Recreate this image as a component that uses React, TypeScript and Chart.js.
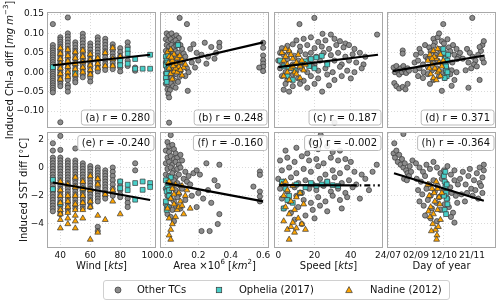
import React, { useEffect, useRef } from 'react';
import { Chart, registerables } from 'chart.js';
Chart.register(...registerables);

const FONT = "'DejaVu Sans', 'Noto Sans', sans-serif";
Chart.defaults.font.family = FONT;

// ---------------- data ----------------
const windCols = [35, 40, 45, 50, 55, 60, 65, 70, 75, 80, 85, 90, 95, 100];

const chlWindOther = [
  [0.124, 0.07, 0.062, 0.056, 0.05, 0.044, 0.038, 0.032, 0.026, 0.02, 0.014, 0.008, 0.002, -0.004, -0.01, -0.016, -0.022, -0.028, -0.034, -0.04, -0.046, -0.052],
  [0.09, 0.084, 0.078, 0.072, 0.066, 0.06, 0.054, 0.048, 0.042, 0.036, 0.03, 0.024, 0.018, 0.012, 0.006, 0.0, -0.006, -0.012, -0.018, -0.024, -0.03, -0.036, -0.129],
  [0.141, 0.1, 0.092, 0.084, 0.076, 0.068, 0.06, 0.052, 0.044, 0.036, 0.028, 0.02, 0.012, 0.004, -0.004, -0.012, -0.02, -0.033, -0.04, -0.05],
  [0.077, 0.07, 0.062, 0.055, 0.048, 0.04, 0.033, 0.025, 0.018, 0.01, 0.003, -0.005, -0.012, -0.02, -0.026],
  [0.099, 0.09, 0.082, 0.074, 0.066, 0.058, 0.05, 0.042, 0.034, 0.026, 0.018, 0.01, 0.002, -0.006, -0.013],
  [0.074, 0.066, 0.058, 0.05, 0.042, 0.034, 0.026, 0.018, 0.01, 0.002, -0.006, -0.014, -0.024],
  [0.09, 0.082, 0.074, 0.066, 0.058, 0.05, 0.042, 0.034, 0.026, 0.018, 0.01, 0.002],
  [0.086, 0.078, 0.07, 0.062, 0.054, 0.046, 0.038, 0.03, 0.022, 0.014, 0.006],
  [0.072, 0.064, 0.056, 0.048, 0.04, 0.032, 0.024, 0.016, 0.008],
  [0.062, 0.052, 0.042, 0.032, 0.022, 0.012, 0.002],
  [0.077, 0.066, 0.03, 0.016],
  [0.012, 0.004],
  [],
  [],
];
const chlWindOphelia = [
  [0.013], [], [], [-0.003], [], [], [], [], [], [0.03, 0.018], [0.058, 0.048, 0.022], [0.034, 0.009], [0.009], [0.045, 0.009],
];
const chlWindNadine = [
  [], [0.062, 0.048, 0.034, 0.022, 0.01, -0.004, -0.018], [0.058, 0.042, 0.028, 0.014, 0.0, -0.012],
  [0.052, 0.036, 0.022, 0.008, -0.006], [0.056, 0.04, 0.026, 0.012, 0.0], [0.046, 0.032, 0.018, 0.006, -0.006],
  [0.036, 0.022, 0.01], [0.05, 0.016], [0.062, 0.034, 0.016], [0.04], [], [], [], [],
];

const sstWindOther = [
  [1.72, 1.2, 0.7, 0.5, 0.3, 0.1, -0.1, -0.3, -0.5, -0.7, -0.9, -1.1, -1.3, -1.5, -1.7, -1.9, -2.1, -2.3, -2.5, -2.7, -2.9, -3.1],
  [2.24, 1.25, 0.7, 0.5, 0.3, 0.1, -0.1, -0.3, -0.5, -0.7, -0.9, -1.1, -1.3, -1.5, -1.7, -1.9, -2.1, -2.3, -2.5, -2.7, -2.9, -3.1, -3.3],
  [0.5, 0.3, 0.1, -0.1, -0.3, -0.5, -0.7, -0.9, -1.1, -1.3, -1.5, -1.7, -1.9, -2.1, -2.3, -2.5, -2.7, -2.9, -3.1],
  [1.35, 0.5, 0.3, 0.1, -0.1, -0.3, -0.5, -0.7, -0.9, -1.1, -1.3, -1.5, -1.7, -1.9, -2.1, -2.3, -2.5, -2.7, -2.9],
  [0.3, 0.1, -0.1, -0.3, -0.5, -0.7, -0.9, -1.1, -1.3, -1.5, -1.7, -1.9, -2.1, -2.3, -2.5, -2.7, -2.9],
  [0.1, -0.1, -0.3, -0.5, -0.7, -0.9, -1.1, -1.3, -1.5, -1.7, -1.9, -2.1, -2.3, -2.5, -2.8],
  [0.0, -0.2, -0.4, -0.6, -0.8, -1.0, -1.2, -1.4, -1.6, -1.8, -2.0, -2.2, -2.4, -4.2, -4.5],
  [-0.2, -0.4, -0.6, -0.8, -1.0, -1.2, -1.4, -1.6, -1.8, -2.0, -2.2],
  [0.0, -0.3, -0.6, -0.9, -1.2, -1.5, -1.8, -2.0],
  [-1.0, -1.3, -1.6, -1.9, -2.1],
  [-2.2, -2.5, -2.8],
  [0.3, -0.2],
  [],
  [],
];
const sstWindOphelia = [
  [-0.87, -1.53], [-2.56], [], [], [-1.5], [], [], [], [], [-0.99, -1.46], [-1.22, -1.6], [-1.1, -2.28], [-0.99, -1.58], [-1.1, -1.38],
];
const sstWindNadine = [
  [], [-1.0, -1.6, -2.0, -2.5, -3.0, -3.3, -3.7, -4.3], [-1.2, -2.0, -2.4, -2.8, -3.2, -3.6, -4.0],
  [-0.7, -1.4, -2.0, -2.6, -3.0, -3.4, -3.8, -4.3], [-1.0, -1.5, -2.0, -2.5, -3.0, -3.6], [-0.6, -1.6, -2.4, -2.8, -5.1],
  [-0.8, -1.2, -3.4, -4.6], [-1.9, -3.7], [-1.6, -2.4], [-3.3], [], [], [], [],
];

const chlAreaOther = [
  [0.005, 0.1], [0.02, 0.095], [0.035, 0.1], [0.05, 0.09], [0.065, 0.095], [0.08, 0.088],
  [0.0, 0.085], [0.015, 0.08], [0.03, 0.085], [0.045, 0.078], [0.06, 0.082], [0.075, 0.075], [0.09, 0.07],
  [0.005, 0.07], [0.02, 0.066], [0.035, 0.07], [0.05, 0.064], [0.065, 0.068], [0.1, 0.06],
  [0.0, 0.055], [0.015, 0.052], [0.03, 0.056], [0.045, 0.05], [0.06, 0.054], [0.075, 0.05], [0.11, 0.048],
  [0.005, 0.04], [0.02, 0.038], [0.035, 0.042], [0.05, 0.036], [0.065, 0.04], [0.085, 0.035], [0.12, 0.04],
  [0.0, 0.026], [0.015, 0.024], [0.03, 0.028], [0.045, 0.022], [0.06, 0.026], [0.08, 0.02], [0.1, 0.025],
  [0.005, 0.012], [0.02, 0.01], [0.035, 0.014], [0.05, 0.008], [0.07, 0.01], [0.09, 0.005], [0.13, 0.01],
  [0.0, -0.002], [0.015, -0.004], [0.03, 0.0], [0.045, -0.008], [0.065, -0.005], [0.085, -0.012],
  [0.005, -0.016], [0.02, -0.018], [0.035, -0.014], [0.055, -0.022], [0.075, -0.025],
  [0.0, -0.03], [0.015, -0.032], [0.03, -0.028], [0.045, -0.036],
  [0.01, -0.044], [0.025, -0.046], [0.015, -0.056], [0.02, -0.065],
  [0.085, 0.14], [0.13, 0.124], [0.02, -0.13], [0.135, -0.048], [0.06, -0.04],
  [0.15, 0.06], [0.17, 0.072], [0.19, 0.05], [0.22, 0.045], [0.24, 0.076], [0.26, 0.04], [0.28, 0.065], [0.3, 0.035],
  [0.33, 0.076], [0.33, 0.065], [0.31, 0.05], [0.2, 0.03], [0.16, 0.025], [0.18, 0.012], [0.14, 0.0], [0.25, 0.022], [0.12, -0.01],
  [0.6, 0.076], [0.6, 0.063], [0.6, 0.043], [0.6, 0.031], [0.6, 0.022], [0.6, 0.014], [0.6, 0.003], [0.576, 0.012],
];
const chlAreaOphelia = [[0.0, 0.04], [0.005, 0.03], [0.0, 0.018], [0.01, 0.008], [0.005, -0.004], [0.0, -0.015], [0.01, 0.025], [0.015, 0.045], [0.02, 0.012], [0.005, -0.025], [0.075, 0.07]];
const chlAreaNadine = [[0.01, 0.052], [0.02, 0.04], [0.03, 0.058], [0.04, 0.03], [0.05, 0.046], [0.06, 0.022], [0.07, 0.036], [0.08, 0.014], [0.09, 0.026], [0.1, 0.032], [0.11, 0.012], [0.02, 0.01], [0.03, -0.004], [0.05, 0.002], [0.07, 0.0], [0.04, -0.018], [0.06, 0.01], [0.015, 0.024], [0.085, 0.042], [0.12, 0.02], [0.1, -0.008], [0.09, 0.006], [0.045, 0.016], [0.035, 0.038]];

const sstAreaOther = [
  [0.03, 2.3], [0.01, 1.8], [0.02, 1.5], [0.04, 1.6], [0.0, 1.2], [0.02, 1.1], [0.05, 1.3], [0.06, 1.0], [0.01, 0.7], [0.03, 0.8], [0.05, 0.6], [0.07, 0.7], [0.09, 0.9],
  [0.0, 0.3], [0.02, 0.4], [0.04, 0.2], [0.06, 0.4], [0.08, 0.2], [0.1, 0.5], [0.01, -0.1], [0.03, 0.0], [0.05, -0.2], [0.07, -0.1], [0.09, 0.0], [0.12, -0.3],
  [0.0, -0.5], [0.02, -0.6], [0.04, -0.4], [0.06, -0.7], [0.08, -0.5], [0.11, -0.8], [0.14, -0.6], [0.01, -1.0], [0.03, -1.2], [0.05, -0.9], [0.07, -1.1], [0.09, -1.3], [0.13, -1.0],
  [0.0, -1.5], [0.02, -1.7], [0.04, -1.4], [0.06, -1.6], [0.08, -1.9], [0.1, -1.5], [0.01, -2.0], [0.03, -2.2], [0.05, -2.4], [0.07, -2.1], [0.12, -2.3],
  [0.0, -2.6], [0.02, -2.8], [0.04, -3.0], [0.06, -2.7], [0.09, -2.9], [0.01, -3.3], [0.03, -3.5], [0.05, -3.8],
  [0.17, -0.4], [0.19, -0.2], [0.21, -0.5], [0.25, 0.3], [0.3, -0.9], [0.32, -1.3], [0.26, -1.6], [0.2, -1.8], [0.23, -2.2], [0.28, -2.5], [0.16, -2.0],
  [0.33, -3.3], [0.32, -4.0], [0.22, -4.5], [0.27, -4.5], [0.19, -2.8], [0.15, -1.2], [0.33, 0.2], [0.54, -1.35],
  [0.58, -0.28], [0.58, -0.52], [0.58, -1.7], [0.58, -2.05], [0.58, -2.4],
];
const sstAreaOphelia = [[0.0, -0.9], [0.01, -1.3], [0.005, -1.7], [0.02, -2.0], [0.0, -2.4], [0.01, -2.8], [0.015, -1.1], [0.005, -3.0], [0.02, -1.6], [0.03, -0.7]];
const sstAreaNadine = [[0.02, -1.0], [0.04, -1.5], [0.06, -1.2], [0.08, -1.8], [0.1, -1.3], [0.12, -2.0], [0.15, -2.9], [0.03, -2.2], [0.05, -2.6], [0.07, -3.0], [0.09, -2.4], [0.11, -3.3], [0.02, -3.6], [0.04, -4.0], [0.03, -4.4], [0.02, -4.8], [0.03, -5.1], [0.06, -3.5], [0.08, -2.8], [0.05, -1.9], [0.13, -1.6], [0.01, -2.9], [0.1, -2.7]];

const chlSpeedOther = [
  [19.9, 0.14], [11.7, 0.124], [54.5, 0.097], [24.4, 0.099], [29, 0.097],
  [10, 0.082], [14, 0.086], [18, 0.09], [22, 0.078], [26, 0.082], [31, 0.086], [34, 0.08], [37, 0.074],
  [2, 0.062], [5, 0.068], [8, 0.072], [12, 0.066], [16, 0.07], [20, 0.062], [24, 0.066], [28, 0.06], [32, 0.07], [36, 0.064], [39, 0.07], [42, 0.06],
  [1, 0.05], [3, 0.045], [6, 0.052], [9, 0.042], [12, 0.054], [15, 0.046], [18, 0.05], [21, 0.04], [25, 0.05], [29, 0.044], [33, 0.05], [37, 0.04], [41, 0.046], [45, 0.05], [48, 0.04],
  [0, 0.03], [2, 0.024], [5, 0.034], [8, 0.02], [11, 0.03], [14, 0.024], [17, 0.034], [20, 0.02], [23, 0.03], [27, 0.024], [31, 0.03], [35, 0.02], [39, 0.03], [43, 0.025], [47, 0.02],
  [1, 0.01], [4, 0.0], [7, 0.014], [10, 0.004], [13, 0.01], [16, 0.0], [19, 0.014], [22, 0.004], [26, 0.01], [30, 0.0], [34, 0.014], [38, 0.004], [42, 0.0], [46, 0.01],
  [2, -0.01], [5, -0.02], [8, -0.006], [11, -0.016], [14, -0.022], [18, -0.01], [22, -0.016], [27, -0.006], [31, -0.02], [35, -0.01], [40, -0.016],
  [4, -0.03], [8, -0.036], [12, -0.03], [16, -0.04], [20, -0.03], [24.2, -0.05], [3, -0.045], [6, -0.05], [28, -0.034],
  [31, -0.13],
];
const chlSpeedOphelia = [[1, 0.03], [3, 0.015], [6, 0.01], [9, 0.005], [12, 0.02], [15, 0.028], [18, 0.034], [21, 0.038], [24, 0.042], [20, 0.01], [17, 0.016], [27, 0.02], [5, -0.01], [8, -0.02]];
const chlSpeedNadine = [[2, 0.05], [3, 0.03], [4, 0.04], [5, 0.02], [6, 0.055], [7, 0.01], [8, 0.035], [9, 0.0], [10, 0.025], [11, 0.045], [12, 0.015], [13, 0.03], [14, 0.005], [3, -0.01], [5, 0.0], [6, -0.02], [8, 0.015], [10, -0.005], [4, 0.06], [7, 0.045], [15, 0.02], [12, -0.015]];

const sstSpeedOther = [
  [23.4, 2.3], [18, 1.8], [4, 1.2], [10, 1.4], [16, 1.0], [22, 1.3], [27, 1.5], [30, 1.1], [34, 1.2],
  [1, 0.5], [5, 0.7], [9, 0.4], [13, 0.8], [17, 0.5], [21, 0.6], [25, 0.3], [29, 0.7], [33, 0.5], [37, 0.6], [40, 0.4], [54.3, 0.2],
  [2, -0.2], [6, 0.0], [10, -0.4], [14, -0.1], [18, -0.3], [22, 0.1], [26, -0.5], [30, -0.2], [34, -0.4], [38, 0.0], [42, -0.3], [46, -0.5], [52, -0.3],
  [0, -0.8], [3, -1.0], [7, -0.7], [11, -1.1], [15, -0.9], [19, -1.2], [23, -0.8], [27, -1.0], [31, -0.7], [35, -1.1], [39, -0.9], [43, -1.2], [48, -0.8],
  [1, -1.5], [5, -1.7], [9, -1.4], [13, -1.8], [17, -1.5], [21, -1.6], [25, -1.3], [29, -1.7], [33, -1.5], [37, -1.8], [41, -1.4], [50, -1.6],
  [2, -2.2], [6, -2.4], [10, -2.0], [14, -2.3], [18, -2.5], [22, -2.1], [26, -2.4], [30, -2.0], [34, -2.3], [38, -2.1], [45, -2.2],
  [3, -2.9], [7, -3.2], [11, -2.8], [15, -3.4], [19, -3.0], [23, -2.7], [27, -3.1], [35, -2.9],
  [9, -3.7], [13, -4.0], [20, -3.6],
];
const sstSpeedOphelia = [[2, -1.0], [4, -1.5], [6, -2.0], [8, -2.5], [10, -1.2], [12, -1.8], [15, -1.4], [18, -1.1], [21, -1.3], [24, -1.2], [27, -1.0], [30, -1.25], [33, -1.3], [3, -2.9], [5, -2.3]];
const sstSpeedNadine = [[2, -1.2], [3, -2.0], [4, -2.8], [5, -1.6], [6, -3.3], [7, -2.4], [8, -1.3], [9, -3.0], [10, -2.1], [11, -3.6], [12, -1.8], [13, -4.0], [14, -2.6], [3, -3.8], [5, -4.4], [7, -4.2], [6, -5.1], [9, -4.6], [4, -1.0], [8, -3.9], [15, -4.4], [10, -4.3]];

const chlDayOther = [
  [213, 0.012], [215, 0.0], [217, 0.016], [219, 0.004], [221, -0.006], [223, 0.01], [225, 0.0], [227, 0.016], [229, 0.006], [231, -0.002], [233, 0.01], [235, 0.004],
  [226, 0.056], [226, 0.048], [214, -0.028], [217, -0.036], [221, -0.042], [226, -0.038], [230, -0.044], [233, -0.03],
  [270, 0.086], [276, 0.09], [282, 0.08], [290, 0.085], [272, 0.076], [284, 0.124], [278, 0.1],
  [250, 0.06], [258, 0.07], [264, 0.064], [270, 0.068], [278, 0.06], [285, 0.074], [292, 0.064], [298, 0.07], [303, 0.06],
  [245, 0.045], [252, 0.05], [259, 0.04], [266, 0.054], [273, 0.045], [280, 0.05], [287, 0.04], [294, 0.054], [300, 0.045], [306, 0.04],
  [243, 0.025], [248, 0.03], [255, 0.02], [262, 0.034], [269, 0.025], [276, 0.03], [283, 0.02], [290, 0.03], [297, 0.025], [304, 0.034],
  [244, 0.005], [250, 0.01], [256, 0.0], [262, 0.014], [268, 0.005], [275, 0.01], [282, 0.0], [289, 0.01], [296, 0.005], [303, 0.0],
  [248, -0.01], [255, -0.015], [262, -0.005], [270, -0.02], [278, -0.01], [286, -0.015], [294, -0.005], [300, -0.02],
  [265, -0.03], [282, -0.048], [296, -0.035], [320, -0.04], [336, -0.02],
  [318, 0.06], [322, 0.05], [326, 0.04], [330, 0.03], [334, 0.045], [338, 0.055], [340, 0.07], [342, 0.08], [336, 0.065], [328, 0.02],
  [324, 0.01], [332, 0.015], [340, 0.035], [342, 0.025], [320, 0.025], [325.5, 0.14], [316, 0.005], [312, 0.035], [308, 0.05],
];
const chlDayOphelia = [[285, 0.05], [286, 0.035], [287, 0.02], [288, 0.005], [289, -0.01], [290, 0.03], [291, 0.045], [286, -0.015], [288, 0.015], [290, 0.0], [284, 0.06]];
const chlDayNadine = [[262, 0.03], [265, 0.045], [268, 0.02], [270, 0.055], [272, 0.01], [274, 0.035], [276, 0.0], [278, 0.025], [280, 0.045], [282, 0.015], [266, -0.005], [270, -0.015], [274, -0.02], [278, 0.005], [271, 0.04], [276, 0.06], [264, 0.01], [268, 0.035], [280, -0.01], [284, 0.03]];

const sstDayOther = [
  [214, 1.72], [227, 2.38], [213, 1.0], [215, 0.7], [217, 1.2], [219, 0.4], [221, 0.9], [223, 0.2], [225, 0.6], [227, 0.0], [229, 0.3], [231, -0.2], [233, -0.4], [235, -0.6], [228, -0.8], [232, -0.9], [240, 0.5], [238, -0.3], [236, 0.1],
  [245, 0.3], [250, 0.0], [255, -0.3], [260, 0.2], [265, -0.1], [270, 0.4], [275, 0.0], [280, -0.4], [285, -0.2], [290, 0.1], [295, -0.5], [300, -0.2],
  [246, -0.8], [252, -1.0], [258, -0.6], [264, -1.2], [270, -0.9], [276, -1.3], [282, -0.8], [288, -1.1], [294, -1.4], [300, -0.9], [305, -1.2],
  [248, -1.6], [254, -1.9], [260, -1.5], [266, -2.0], [272, -1.7], [278, -2.1], [284, -1.6], [290, -2.2], [296, -1.8], [302, -2.0],
  [250, -2.4], [256, -2.7], [262, -2.3], [268, -2.9], [274, -2.5], [280, -3.0], [286, -2.6], [292, -2.8], [298, -3.2], [304, -2.5],
  [258, -3.4], [266, -3.6], [275, -3.8], [295, -3.5], [300, -3.9],
  [308, -0.8], [312, -0.3], [316, -1.2], [320, -0.6], [324, -1.5], [328, -0.9], [332, -0.4], [336, -1.1], [340, -0.7], [342, -0.2], [326, -2.0],
  [318, -1.8], [330, -1.6], [338, -1.3], [334, -2.2], [322, -0.1], [340, -1.8], [315, -2.4], [310, -1.9], [342, 0.2], [336, 0.0],
];
const sstDayOphelia = [[285, -0.6], [286, -1.0], [287, -1.4], [288, -1.8], [289, -2.2], [290, -2.6], [286, -3.0], [288, -3.3], [285, -2.0], [287, -0.3], [289, -1.2]];
const sstDayNadine = [[262, -1.2], [264, -2.0], [266, -2.8], [268, -1.5], [270, -3.3], [272, -2.4], [274, -1.0], [276, -3.0], [278, -2.1], [280, -3.7], [282, -1.8], [265, -3.5], [269, -4.0], [273, -4.4], [275, -4.8], [274.5, -5.1], [277, -4.2], [263, -3.1], [271, -1.8], [279, -2.6], [267, -4.5], [276, -1.5]];

// regression lines [x0, y0, x1, y1]
const fitLines = [
  [35, 0.018, 100, 0.045],
  [0, 0.0185, 0.6, 0.077],
  [0, 0.013, 55, 0.045],
  [212, 0.003, 343, 0.043],
  [35, -1.06, 100, -2.3],
  [0, -1.1, 0.6, -2.4],
  [0.5, -1.24, 40, -1.26],
  [213.6, -0.4, 342, -2.35],
];
const fitTailG = [40, -1.26, 56, -1.27];
const rLabels = ['(a) r = 0.280', '(b) r = 0.248', '(c) r = 0.187', '(d) r = 0.371', '(e) r = -0.240', '(f) r = -0.160', '(g) r = -0.002', '(h) r = -0.364'];

// axes
const chlTicks = [-0.1, -0.05, 0, 0.05, 0.1, 0.15];
const chlTickLabels = ['−0.10', '−0.05', '0.00', '0.05', '0.10', '0.15'];
const sstTicks = [-4, -2, 0, 2];
const sstTickLabels = ['−4', '−2', '0', '2'];
const windTicks = [40, 60, 80, 100];
const windTickLabels = ['40', '60', '80', '100'];
const areaTicks = [0, 0.2, 0.4, 0.6];
const areaTickLabels = ['0.0', '0.2', '0.4', '0.6'];
const speedTicks = [0, 20, 40];
const speedTickLabels = ['0', '20', '40'];
const dayTicks = [205, 245, 285, 325];
const dayTickLabels = ['24/07', '02/09', '12/10', '21/11'];

type Seg = { t: string; it?: boolean; sup?: boolean };
type Axis = { min: number; max: number; ticks: number[]; labels: string[] };
const axX: Axis[] = [
  { min: 31.75, max: 103.25, ticks: windTicks, labels: windTickLabels },
  { min: -0.03, max: 0.63, ticks: areaTicks, labels: areaTickLabels },
  { min: -1.8, max: 57.2, ticks: speedTicks, labels: speedTickLabels },
  { min: 205, max: 358, ticks: dayTicks, labels: dayTickLabels },
];
const axY: Axis[] = [
  { min: -0.1412, max: 0.1526, ticks: chlTicks, labels: chlTickLabels },
  { min: -5.63, max: 2.447, ticks: sstTicks, labels: sstTickLabels },
];
const xTitles: Seg[][] = [
  [{ t: 'Wind [' }, { t: 'kts', it: true }, { t: ']' }],
  [{ t: 'Area ×10' }, { t: '6', sup: true }, { t: ' [' }, { t: 'km', it: true }, { t: '2', sup: true }, { t: ']' }],
  [{ t: 'Speed [' }, { t: 'kts', it: true }, { t: ']' }],
  [{ t: 'Day of year' }],
];
const yTitles: Seg[][] = [
  [{ t: 'Induced Chl-a diff [' }, { t: 'mg m', it: true }, { t: '−3', sup: true }, { t: ']' }],
  [{ t: 'Induced SST diff [' }, { t: '°' }, { t: 'C', it: true }, { t: ']' }],
];
const yTitlePos = [[10, 70], [24, 190]];
const xTitleY = 266;

// ---------------- layout ----------------
const colX = [48, 161, 275, 388];
const colW = 107;
const rowY = [13, 133];
const rowH = 114;

const GRAY = '#8c8c8c';
const CYAN = '#48cfc8';
const ORANGE = '#ffa500';
const EDGE = '#363636';
const SPINE = '#a8a8a8';
const GRID = '#d2d2d2';

type P = { x: number; y: number };
const toPts = (a: number[][]): P[] => a.map(([x, y]) => ({ x, y }));
const fromCols = (cols: number[][]): P[] => cols.flatMap((vals, i) => vals.map((y) => ({ x: windCols[i], y })));

const panelData: { other: P[]; oph: P[]; nad: P[] }[] = [
  { other: fromCols(chlWindOther), oph: fromCols(chlWindOphelia), nad: fromCols(chlWindNadine) },
  { other: toPts(chlAreaOther), oph: toPts(chlAreaOphelia), nad: toPts(chlAreaNadine) },
  { other: toPts(chlSpeedOther), oph: toPts(chlSpeedOphelia), nad: toPts(chlSpeedNadine) },
  { other: toPts(chlDayOther), oph: toPts(chlDayOphelia), nad: toPts(chlDayNadine) },
  { other: fromCols(sstWindOther), oph: fromCols(sstWindOphelia), nad: fromCols(sstWindNadine) },
  { other: toPts(sstAreaOther), oph: toPts(sstAreaOphelia), nad: toPts(sstAreaNadine) },
  { other: toPts(sstSpeedOther), oph: toPts(sstSpeedOphelia), nad: toPts(sstSpeedNadine) },
  { other: toPts(sstDayOther), oph: toPts(sstDayOphelia), nad: toPts(sstDayNadine) },
];

function geom(i: number) {
  const col = i % 4;
  const row = Math.floor(i / 4);
  const px = colX[col];
  const py = rowY[row];
  const padL = col === 0 ? px : 44;
  const padR = 30;
  const padT = row === 0 ? py : 10;
  const padB = row === 0 ? 16 : 45;
  return { col, row, padL, padR, padT, padB, left: px - padL, top: py - padT, w: padL + colW + padR, h: padT + rowH + padB };
}

function drawRich(ctx: CanvasRenderingContext2D, segs: Seg[], cx: number, cy: number, rot: number, size: number) {
  ctx.save();
  ctx.translate(cx, cy);
  ctx.rotate(rot);
  const fontFor = (s: Seg) => `${s.it ? 'italic ' : ''}${s.sup ? size * 0.7 : size}px ${FONT}`;
  let total = 0;
  const widths = segs.map((s) => {
    ctx.font = fontFor(s);
    const w = ctx.measureText(s.t).width;
    total += w;
    return w;
  });
  let x = -total / 2;
  ctx.textBaseline = 'middle';
  ctx.textAlign = 'left';
  ctx.fillStyle = '#111';
  segs.forEach((s, k) => {
    ctx.font = fontFor(s);
    ctx.fillText(s.t, x, s.sup ? -size * 0.38 : 0);
    x += widths[k];
  });
  ctx.restore();
}

function buildConfig(i: number): any {
  const g = geom(i);
  const xa = axX[g.col];
  const ya = axY[g.row];
  const d = panelData[i];
  const f = fitLines[i];
  const datasets: any[] = [
    { data: [{ x: f[0], y: f[1] }, { x: f[2], y: f[3] }], showLine: true, borderColor: '#000', borderWidth: 2.2, pointRadius: 0, order: 0 },
    { data: d.nad, pointStyle: 'triangle', pointRadius: 3.4, backgroundColor: ORANGE, borderColor: EDGE, borderWidth: 0.7, order: 2 },
    { data: d.oph, pointStyle: 'rect', pointRadius: 3.4, backgroundColor: CYAN, borderColor: EDGE, borderWidth: 0.7, order: 3 },
    { data: d.other, pointStyle: 'circle', pointRadius: 2.6, backgroundColor: GRAY, borderColor: EDGE, borderWidth: 0.7, order: 4 },
  ];
  if (i === 6) {
    datasets.push({ data: [{ x: fitTailG[0], y: fitTailG[1] }, { x: fitTailG[2], y: fitTailG[3] }], showLine: true, borderColor: '#000', borderWidth: 2.2, borderDash: [6, 3, 1.5, 3], pointRadius: 0, order: 1 });
  }
  const labelsY = g.col === 0;
  const labelsX = g.row === 1;
  const deco = {
    id: 'deco' + i,
    afterDatasetsDraw(chart: any) {
      const ctx: CanvasRenderingContext2D = chart.ctx;
      const ca = chart.chartArea;
      ctx.save();
      ctx.font = `10px ${FONT}`;
      const text = rLabels[i];
      const tw = ctx.measureText(text).width;
      const bw = tw + 8;
      const bh = 15;
      const bx = ca.right - 1.5 - bw;
      const by = g.row === 0 ? ca.bottom - 2.5 - bh : ca.top + 2;
      ctx.beginPath();
      (ctx as any).roundRect(bx + 0.5, by + 0.5, bw, bh, 2.5);
      ctx.fillStyle = 'rgba(255,255,255,0.88)';
      ctx.fill();
      ctx.strokeStyle = '#bbbbbb';
      ctx.lineWidth = 1;
      ctx.stroke();
      ctx.fillStyle = '#111';
      ctx.textBaseline = 'middle';
      ctx.textAlign = 'left';
      ctx.fillText(text, bx + 4.5, by + bh / 2 + 1);
      ctx.restore();
    },
    afterDraw(chart: any) {
      const ctx: CanvasRenderingContext2D = chart.ctx;
      const ca = chart.chartArea;
      ctx.save();
      ctx.strokeStyle = SPINE;
      ctx.lineWidth = 1;
      ctx.strokeRect(ca.left - 0.5, ca.top - 0.5, ca.right - ca.left + 1, ca.bottom - ca.top + 1);
      ctx.restore();
      if (g.col === 0) {
        const p = yTitlePos[g.row];
        drawRich(ctx, yTitles[g.row], p[0] - g.left, p[1] - g.top, -Math.PI / 2, 10);
      }
      if (g.row === 1) {
        drawRich(ctx, xTitles[g.col], colX[g.col] + colW / 2 - g.left, xTitleY - g.top, 0, 10);
      }
    },
  };
  const tickFont = { size: 9, family: FONT };
  return {
    type: 'scatter',
    data: { datasets },
    plugins: [deco],
    options: {
      animation: false,
      responsive: false,
      events: [],
      layout: { padding: { left: labelsY ? 0 : g.padL, right: g.padR, top: g.padT, bottom: labelsX ? 0 : g.padB } },
      plugins: { legend: { display: false }, tooltip: { enabled: false } },
      scales: {
        x: {
          type: 'linear',
          min: xa.min,
          max: xa.max,
          afterBuildTicks: (s: any) => { s.ticks = xa.ticks.map((v) => ({ value: v })); },
          afterFit: (s: any) => { s.height = labelsX ? g.padB : 0; },
          ticks: { display: labelsX, callback: (_v: any, k: number) => xa.labels[k], font: tickFont, color: '#111', padding: 3, maxRotation: 0, autoSkip: false },
          grid: { color: GRID, lineWidth: 0.8, drawTicks: false },
          border: { display: false, dash: [1, 2] },
        },
        y: {
          type: 'linear',
          min: ya.min,
          max: ya.max,
          afterBuildTicks: (s: any) => { s.ticks = ya.ticks.map((v) => ({ value: v })); },
          afterFit: (s: any) => { s.width = labelsY ? g.padL : 0; },
          ticks: { display: labelsY, callback: (_v: any, k: number) => ya.labels[k], font: tickFont, color: '#111', padding: 4, autoSkip: false },
          grid: { color: GRID, lineWidth: 0.8, drawTicks: false },
          border: { display: false, dash: [1, 2] },
        },
      },
    },
  };
}

const legendItems = [
  { label: 'Other TCs', shape: 'circle', color: GRAY, mx: 13.7, tx: 33 },
  { label: 'Ophelia (2017)', shape: 'square', color: CYAN, mx: 115, tx: 135 },
  { label: 'Nadine (2012)', shape: 'triangle', color: ORANGE, mx: 245, tx: 266 },
];

function Marker({ shape, color }: { shape: string; color: string }) {
  return (
    <svg width={10} height={10} viewBox="0 0 10 10" style={{ display: 'block' }}>
      {shape === 'circle' && <circle cx={5} cy={5} r={3} fill={color} stroke={EDGE} strokeWidth={0.7} />}
      {shape === 'square' && <rect x={2.3} y={2.3} width={5.4} height={5.4} fill={color} stroke={EDGE} strokeWidth={0.7} />}
      {shape === 'triangle' && <polygon points="5,1.6 8.3,7.6 1.7,7.6" fill={color} stroke={EDGE} strokeWidth={0.7} />}
    </svg>
  );
}

export default function App() {
  const refs = useRef<(HTMLCanvasElement | null)[]>([]);
  useEffect(() => {
    const charts = panelData.map((_, i) => new Chart(refs.current[i] as HTMLCanvasElement, buildConfig(i)));
    return () => charts.forEach((c) => c.destroy());
  }, []);
  return (
    <div style={{ position: 'absolute', left: 0, top: 0, width: 500, height: 304, background: '#fff', overflow: 'hidden', fontFamily: FONT }}>
      {panelData.map((_, i) => {
        const g = geom(i);
        return (
          <canvas
            key={i}
            ref={(el) => { refs.current[i] = el; }}
            width={g.w}
            height={g.h}
            style={{ position: 'absolute', left: g.left, top: g.top, width: g.w, height: g.h }}
          />
        );
      })}
      <div style={{ position: 'absolute', left: 103, top: 280, width: 345, height: 18, border: '1px solid #d0d0d0', borderRadius: 3, background: '#fff' }}>
        {legendItems.map((it) => (
          <React.Fragment key={it.label}>
            <div style={{ position: 'absolute', left: it.mx - 5, top: 4 }}>
              <Marker shape={it.shape} color={it.color} />
            </div>
            <div style={{ position: 'absolute', left: it.tx, top: 0, lineHeight: '18px', fontSize: 10, color: '#111', whiteSpace: 'nowrap' }}>{it.label}</div>
          </React.Fragment>
        ))}
      </div>
    </div>
  );
}
